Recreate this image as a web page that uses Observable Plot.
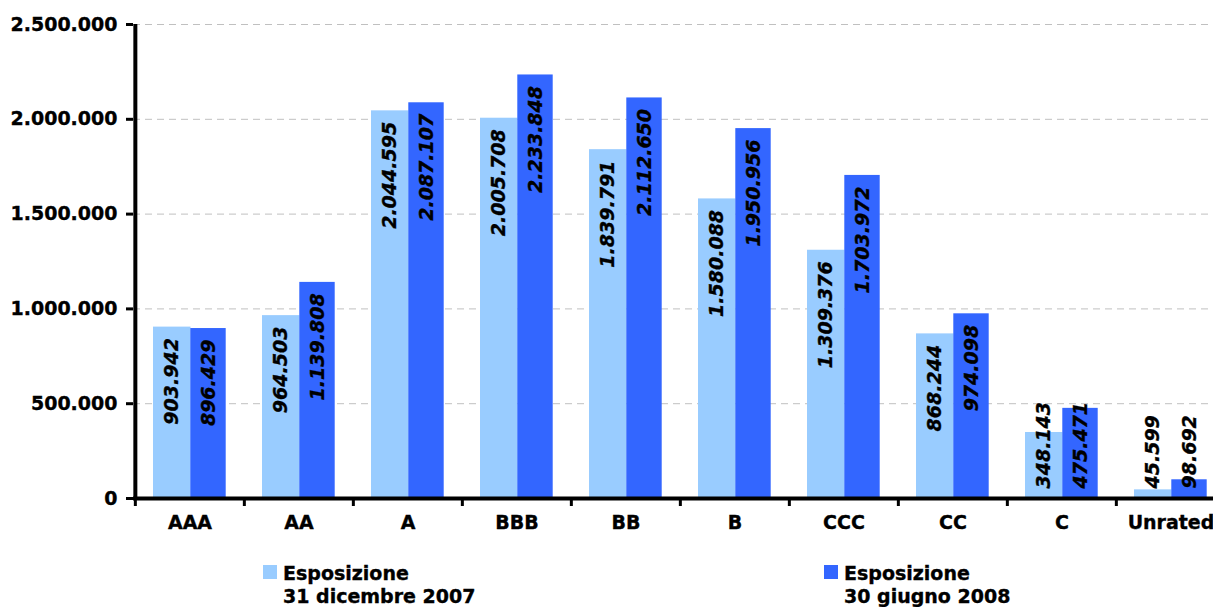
<!DOCTYPE html>
<html>
<head>
<meta charset="utf-8">
<script src="https://cdn.jsdelivr.net/npm/d3@7"></script>
<script src="https://cdn.jsdelivr.net/npm/@observablehq/plot@0.6"></script>
<style>
  html, body { margin: 0; padding: 0; background: #fff; }
  body { width: 1213px; height: 607px; overflow: hidden; position: relative;
         font-family: "DejaVu Sans", Verdana, sans-serif; }
  #chart svg text { stroke: #000; stroke-width: 0.35px; }
  #legend { position: absolute; left: 0; top: 562px; width: 1213px; height: 45px; }
  .item { position: absolute; top: 0; font-weight: bold; font-size: 19px; line-height: 23px; color: #000;
          -webkit-text-stroke: 0.35px #000; }
  .swatch { position: absolute; left: 0; top: 3px; width: 14px; height: 14px; }
  .label { position: absolute; left: 20px; top: 0; white-space: nowrap; }
</style>
</head>
<body>
<div id="chart"></div>
<div id="legend"></div>
<script>
// Rating classes on the x axis
const ratings = ["AAA", "AA", "A", "BBB", "BB", "B", "CCC", "CC", "C", "Unrated"];
// Exposure at 31 December 2007
const exposure2007 = [903942, 964503, 2044595, 2005708, 1839791, 1580088, 1309376, 868244, 348143, 45599];
// Exposure at 30 June 2008
const exposure2008 = [896429, 1139808, 2087107, 2233848, 2112650, 1950956, 1703972, 974098, 475471, 98692];
// Series names and y-axis ticks
const seriesNames = ["Esposizione\n31 dicembre 2007", "Esposizione\n30 giugno 2008"];
const yTicks = [0, 500000, 1000000, 1500000, 2000000, 2500000];

const colors = ["#99CCFF", "#3366FF"];
const it = d3.formatLocale({decimal: ",", thousands: ".", grouping: [3], currency: ["€", ""]});
const fmt = it.format(",d");

const W = 1213, H = 540;
const mTop = 24, mBottom = 42, mLeft = 133;
const band = 109.3;
const yMax = 2500000;
const pxPerUnit = (H - mTop - mBottom) / yMax;
const fontSize = 19;

const rows2007 = ratings.map((r, i) => ({rating: r, value: exposure2007[i]}));
const rows2008 = ratings.map((r, i) => ({rating: r, value: exposure2008[i]}));

// A label fits inside its bar when the bar is taller than the text plus padding
const labelLen = v => fmt(v).length * 0.62 * fontSize;
const fits = d => d.value * pxPerUnit > labelLen(d.value) + 14;

// Bar slots inside each band: light bar then dark bar (light bar tucks under the dark one)
const slot = [{l: 18, r: band - 55.8, c: 36.65}, {l: 55.3, r: band - 91, c: 73.15}];

function barMarks(rows, k) {
  const opts = {x: "rating", y: "value", fill: colors[k], insetLeft: slot[k].l, insetRight: slot[k].r};
  const center = slot[k].c - band / 2;
  const txt = {x: "rating", text: d => fmt(d.value), rotate: -90, dx: center,
               fontSize, fontWeight: "bold", fontStyle: "italic", fill: "#000", lineAnchor: "middle"};
  return [
    Plot.barY(rows, opts),
    Plot.text(rows.filter(fits), {...txt, y: "value", textAnchor: "end", dy: 11}),
    Plot.text(rows.filter(d => !fits(d)), {...txt, y: 0, textAnchor: "start", dy: -10})
  ];
}

const chart = Plot.plot({
  width: W,
  height: H,
  marginTop: mTop,
  marginBottom: mBottom,
  marginLeft: mLeft,
  marginRight: 0,
  style: {fontFamily: "'DejaVu Sans', Verdana, sans-serif", background: "white", overflow: "visible"},
  x: {domain: ratings, range: [mLeft, mLeft + band * ratings.length], padding: 0},
  y: {domain: [0, yMax]},
  marks: [
    Plot.gridY(yTicks.slice(1), {stroke: "#c0c0c0", strokeOpacity: 1, strokeDasharray: "7,5", strokeWidth: 1}),
    ...barMarks(rows2007, 0).slice(0, 1),
    ...barMarks(rows2008, 1).slice(0, 1),
    ...barMarks(rows2007, 0).slice(1),
    ...barMarks(rows2008, 1).slice(1),
    // x axis line
    Plot.ruleY([0], {stroke: "#000", strokeWidth: 4}),
    // category separator ticks below the axis
    Plot.ruleX(ratings, {x: d => d, dx: -band / 2, y1: 0, y2: 0, insetBottom: -8, stroke: "#000", strokeWidth: 3}),
    // y axis line
    Plot.ruleX([ratings[0]], {x: d => d, dx: -band / 2, y1: 0, y2: yMax, insetTop: -1, stroke: "#000", strokeWidth: 4}),
    Plot.axisY({ticks: yTicks, tickFormat: fmt, tickSize: 7, tickPadding: 9, fontSize, fontWeight: "bold",
                stroke: "#000", strokeWidth: 3, fill: "#000", label: null}),
    Plot.axisX({tickSize: 0, tickPadding: 17, fontSize, fontWeight: "bold", fill: "#000", label: null})
  ]
});
document.getElementById("chart").appendChild(chart);

// Legend below the chart
const legend = d3.select("#legend");
const legendX = [263, 824];
seriesNames.forEach((name, k) => {
  const item = legend.append("div").attr("class", "item").style("left", legendX[k] + "px");
  item.append("div").attr("class", "swatch").style("background", colors[k]);
  const lab = item.append("div").attr("class", "label");
  name.split("\n").forEach(line => lab.append("div").text(line));
});
</script>
</body>
</html>
